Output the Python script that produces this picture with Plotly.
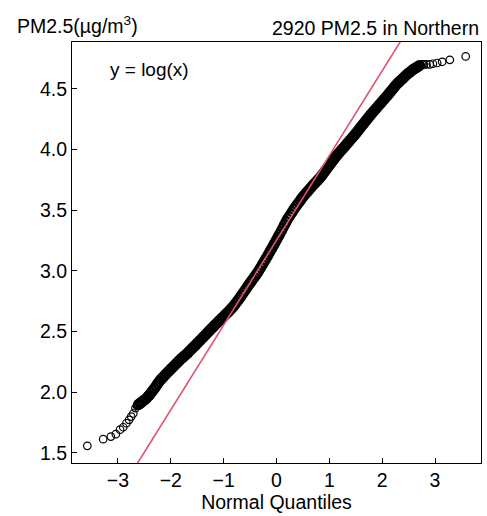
import plotly.graph_objects as go

# Normal theoretical quantiles (x) and log PM2.5 sample quantiles (y)
tail_low_x = [-3.58, -3.28, -3.135, -3.04, -2.96, -2.90, -2.84, -2.79, -2.75, -2.71, -2.67, -2.64]
tail_low_y = [1.559, 1.614, 1.635, 1.655, 1.692, 1.712, 1.745, 1.773, 1.80, 1.825, 1.87, 1.888]

body_x = [-2.61, -2.58, -2.55, -2.52, -2.49, -2.46, -2.43, -2.40, -2.37, -2.34,
          -2.31, -2.28, -2.25, -2.22, -2.19, -2.16, -2.13, -2.10, -2.07, -2.04,
          -2.01, -1.98, -1.95, -1.92, -1.89, -1.86, -1.83, -1.80, -1.77, -1.74,
          -1.71, -1.68, -1.65, -1.62, -1.59, -1.56, -1.53, -1.50, -1.47, -1.44,
          -1.41, -1.38, -1.35, -1.32, -1.29, -1.26, -1.23, -1.20, -1.17, -1.14,
          -1.11, -1.08, -1.05, -1.02, -0.99, -0.96, -0.93, -0.90, -0.87, -0.84,
          -0.81, -0.78, -0.75, -0.72, -0.69, -0.66, -0.63, -0.60, -0.57, -0.54,
          -0.51, -0.48, -0.45, -0.42, -0.39, -0.36, -0.33, -0.30, -0.27, -0.24,
          -0.21, -0.18, -0.15, -0.12, -0.09, -0.06, -0.03, 0.00, 0.03, 0.06,
          0.09, 0.12, 0.15, 0.18, 0.21, 0.24, 0.27, 0.30, 0.33, 0.36,
          0.39, 0.42, 0.45, 0.48, 0.51, 0.54, 0.57, 0.60, 0.63, 0.66,
          0.69, 0.72, 0.75, 0.78, 0.81, 0.84, 0.87, 0.90, 0.93, 0.96,
          0.99, 1.02, 1.05, 1.08, 1.11, 1.14, 1.17, 1.20, 1.23, 1.26,
          1.29, 1.32, 1.35, 1.38, 1.41, 1.44, 1.47, 1.50, 1.53, 1.56,
          1.59, 1.62, 1.65, 1.68, 1.71, 1.74, 1.77, 1.80, 1.83, 1.86,
          1.89, 1.92, 1.95, 1.98, 2.01, 2.04, 2.07, 2.10, 2.13, 2.16,
          2.19, 2.22, 2.25, 2.28, 2.31, 2.34, 2.37, 2.40, 2.43, 2.46,
          2.49, 2.52, 2.55, 2.58, 2.61, 2.64, 2.67, 2.70]
body_y = [1.900, 1.910, 1.920, 1.930, 1.940, 1.950, 1.966, 1.980, 1.998, 2.015,
          2.032, 2.050, 2.070, 2.088, 2.105, 2.118, 2.132, 2.146, 2.160, 2.173,
          2.186, 2.200, 2.213, 2.226, 2.239, 2.252, 2.266, 2.278, 2.289, 2.301,
          2.312, 2.324, 2.338, 2.351, 2.364, 2.377, 2.390, 2.404, 2.417, 2.430,
          2.444, 2.457, 2.471, 2.484, 2.498, 2.511, 2.525, 2.538, 2.552, 2.565,
          2.578, 2.591, 2.604, 2.616, 2.629, 2.642, 2.655, 2.668, 2.682, 2.696,
          2.710, 2.727, 2.745, 2.762, 2.780, 2.799, 2.818, 2.837, 2.856, 2.875,
          2.894, 2.912, 2.930, 2.948, 2.966, 2.984, 3.005, 3.027, 3.049, 3.071,
          3.093, 3.115, 3.138, 3.162, 3.185, 3.208, 3.231, 3.255, 3.279, 3.302,
          3.327, 3.352, 3.378, 3.403, 3.427, 3.447, 3.467, 3.487, 3.507, 3.526,
          3.544, 3.562, 3.580, 3.598, 3.615, 3.630, 3.645, 3.660, 3.675, 3.690,
          3.705, 3.719, 3.733, 3.747, 3.761, 3.776, 3.793, 3.811, 3.828, 3.845,
          3.863, 3.880, 3.898, 3.915, 3.933, 3.950, 3.965, 3.980, 3.995, 4.010,
          4.025, 4.040, 4.055, 4.070, 4.085, 4.100, 4.115, 4.132, 4.148, 4.164,
          4.181, 4.198, 4.214, 4.231, 4.247, 4.263, 4.280, 4.295, 4.310, 4.325,
          4.340, 4.355, 4.370, 4.385, 4.400, 4.415, 4.430, 4.445, 4.461, 4.477,
          4.493, 4.508, 4.524, 4.540, 4.552, 4.565, 4.577, 4.589, 4.602, 4.614,
          4.625, 4.636, 4.646, 4.657, 4.665, 4.673, 4.681, 4.690]

tail_high_x = [2.73, 2.76, 2.79, 2.84, 2.90, 2.96, 3.04, 3.135, 3.28, 3.58]
tail_high_y = [4.695, 4.700, 4.700, 4.700, 4.700, 4.706, 4.712, 4.722, 4.738, 4.766]

# Reference line (qqline) parameters
qq_intercept = 3.252
qq_slope = 0.698

x_range = [-3.87, 3.87]
y_range = [1.4175, 4.885]
x_ticks = [-3, -2, -1, 0, 1, 2, 3]
y_ticks = [1.5, 2.0, 2.5, 3.0, 3.5, 4.0, 4.5]
y_tick_labels = ["1.5", "2.0", "2.5", "3.0", "3.5", "4.0", "4.5"]

FONT = "Liberation Sans, Arial, sans-serif"
fig = go.Figure()
# dense central part of the sample (thousands of overlapping circles -> solid band)
fig.add_trace(go.Scatter(
    x=body_x, y=body_y, mode="markers",
    marker=dict(symbol="circle-open", size=9, color="black", line=dict(width=2.2, color="black")),
    hoverinfo="skip", showlegend=False,
))
# sparse tails
fig.add_trace(go.Scatter(
    x=tail_low_x + tail_high_x, y=tail_low_y + tail_high_y, mode="markers",
    marker=dict(symbol="circle-open", size=7.5, color="black", line=dict(width=1.2, color="black")),
    hoverinfo="skip", showlegend=False,
))
fig.add_trace(go.Scatter(
    x=x_range, y=[qq_intercept + qq_slope * v for v in x_range],
    mode="lines", line=dict(color="#DF536B", width=1.6),
    hoverinfo="skip", showlegend=False,
))

fig.update_layout(
    width=487, height=516,
    margin=dict(l=72, r=6, t=42, b=53),
    paper_bgcolor="white", plot_bgcolor="white",
    font=dict(family=FONT, size=19.5, color="black"),
    xaxis=dict(range=x_range, tickmode="array", tickvals=x_ticks, ticks="inside", ticklen=5,
               tickwidth=1, tickcolor="black", showgrid=False, zeroline=False,
               showline=True, linecolor="black", linewidth=1, mirror=True,
               title=dict(text="Normal Quantiles", standoff=2, font=dict(size=19.5)),
               tickfont=dict(size=19.5)),
    yaxis=dict(range=y_range, tickmode="array", tickvals=y_ticks, ticktext=y_tick_labels,
               ticks="inside", ticklen=5, tickwidth=1, tickcolor="black",
               showgrid=False, zeroline=False, showline=True, linecolor="black",
               linewidth=1, mirror=True, tickfont=dict(size=19.5)),
    annotations=[
        dict(text="2920 PM2.5 in Northern", xref="paper", yref="paper", x=1.0, y=1.034,
             xanchor="right", yanchor="middle", showarrow=False, font=dict(size=19.5)),
        dict(text="PM2.5(µg/m<sup>3</sup>)", xref="paper", yref="paper", x=-0.139, y=1.04,
             xanchor="left", yanchor="middle", showarrow=False, font=dict(size=19.5)),
        dict(text="y = log(x)", xref="paper", yref="paper", x=0.089, y=0.934,
             xanchor="left", yanchor="middle", showarrow=False, font=dict(size=19)),
    ],
)

fig.write_html(
    "out.html",
    config={"displayModeBar": False},
    post_script="document.body.style.margin='0px';document.body.style.overflow='hidden';",
)
